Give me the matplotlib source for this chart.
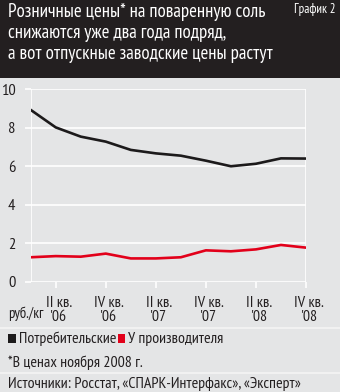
import matplotlib
matplotlib.use('Agg')
import matplotlib.pyplot as plt
import matplotlib.transforms as mtransforms
from matplotlib.patches import Rectangle

# Quarterly salt prices, rub/kg (Q1 2006 .. Q4 2008)
quarters = list(range(12))
retail = [8.93, 8.02, 7.54, 7.28, 6.85, 6.67, 6.55, 6.29, 6.00, 6.13, 6.41, 6.40]
producer = [1.27, 1.33, 1.30, 1.46, 1.21, 1.21, 1.27, 1.63, 1.58, 1.68, 1.91, 1.77]
tick_pos = [1, 3, 5, 7, 9, 11]
tick_labels = ["II кв.\n'06", "IV кв.\n'06", "II кв.\n'07",
               "IV кв.\n'07", "II кв.\n'08", "IV кв.\n'08"]
y_ticks = [0, 2, 4, 6, 8, 10]

title = ('Розничные цены* на поваренную соль\n'
         'снижаются уже два года подряд,\n'
         'а вот отпускные заводские цены растут')
series_names = ['Потребительские', 'У производителя']
footnote = '*В ценах ноября 2008 г.'
sources = 'Источники: Росстат, «СПАРК-Интерфакс», «Эксперт»'

BG = '#e4e5e6'
HEAD = '#231f20'
RED = '#e2001a'
BLK = '#1c1a1b'
TXT = '#231f20'
FS = 11.4

plt.rcParams['font.family'] = ['PT Sans Narrow', 'DejaVu Sans']

W, H = 340, 392
fig = plt.figure(figsize=(W / 100, H / 100), dpi=100, facecolor=BG)


def fx(px):
    return px / W


def fy(py):
    return 1 - py / H


# dark header band
fig.patches.append(Rectangle((0, fy(78)), 1, 78 / H, transform=fig.transFigure,
                             facecolor=HEAD, edgecolor='none', zorder=0))
fig.text(fx(8), fy(3), title, color='white', fontsize=13.6, va='top', ha='left',
         linespacing=1.22)
fig.text(fx(335), fy(2.5), 'График 2', color='white', fontsize=9.3, va='top', ha='right')

ax = fig.add_axes([fx(30.7), fy(281.7), fx(306) - fx(30.7), fy(89.3) - fy(281.7)])
ax.set_facecolor(BG)
ax.set_xlim(0, 11)
ax.set_ylim(0, 10)
ax.set_yticks(y_ticks)
ax.set_xticks(tick_pos)
ax.set_xticklabels(tick_labels, fontsize=FS, color=TXT, linespacing=1.05)
ax.tick_params(axis='y', labelsize=FS + 0.4, colors='white', labelcolor=TXT,
               length=4, width=1.2, pad=7)
ax.tick_params(axis='x', colors='white', labelcolor=TXT,
               length=4, width=1.2, pad=6)
# nudge the quarter labels a little to the right of their ticks
shift = mtransforms.ScaledTranslation(3 / 100, 0, fig.dpi_scale_trans)
for lbl in ax.get_xticklabels():
    lbl.set_transform(lbl.get_transform() + shift)
for s in ['top', 'bottom', 'left', 'right']:
    ax.spines[s].set_visible(False)
ax.grid(axis='y', color='white', linewidth=1.2)
ax.axvline(0, color='white', linewidth=1.2, zorder=1)
ax.axvline(11, color='white', linewidth=1.2, zorder=1)
ax.set_axisbelow(True)

ax.plot(quarters, retail, color=BLK, linewidth=1.9, solid_joinstyle='round', zorder=3)
ax.plot(quarters, producer, color=RED, linewidth=1.9, solid_joinstyle='round', zorder=3)

fig.text(fx(8), fy(314), 'руб./кг', fontsize=FS - 0.8, color=TXT, va='center', ha='left')

# bottom block: legend, footnote, sources with separators
for y in [327.7, 372.7]:
    fig.add_artist(plt.Line2D([0, 1], [fy(y), fy(y)], color='#f4f4f4', linewidth=1.2))

fig.patches.append(Rectangle((fx(8), fy(343)), fx(7.5), 9 / H, transform=fig.transFigure,
                             facecolor=BLK, edgecolor='none'))
fig.text(fx(18.5), fy(338.5), series_names[0], fontsize=FS, color=TXT,
         va='center', ha='left')
fig.patches.append(Rectangle((fx(118), fy(343)), fx(7.5), 9 / H, transform=fig.transFigure,
                             facecolor=RED, edgecolor='none'))
fig.text(fx(128.5), fy(338.5), series_names[1], fontsize=FS, color=TXT,
         va='center', ha='left')

fig.text(fx(8), fy(362.5), footnote, fontsize=FS, color=TXT, va='center', ha='left')
fig.text(fx(8), fy(384), sources, fontsize=FS, color=TXT, va='center', ha='left')

fig.savefig('out.png', dpi=100, facecolor=BG)
